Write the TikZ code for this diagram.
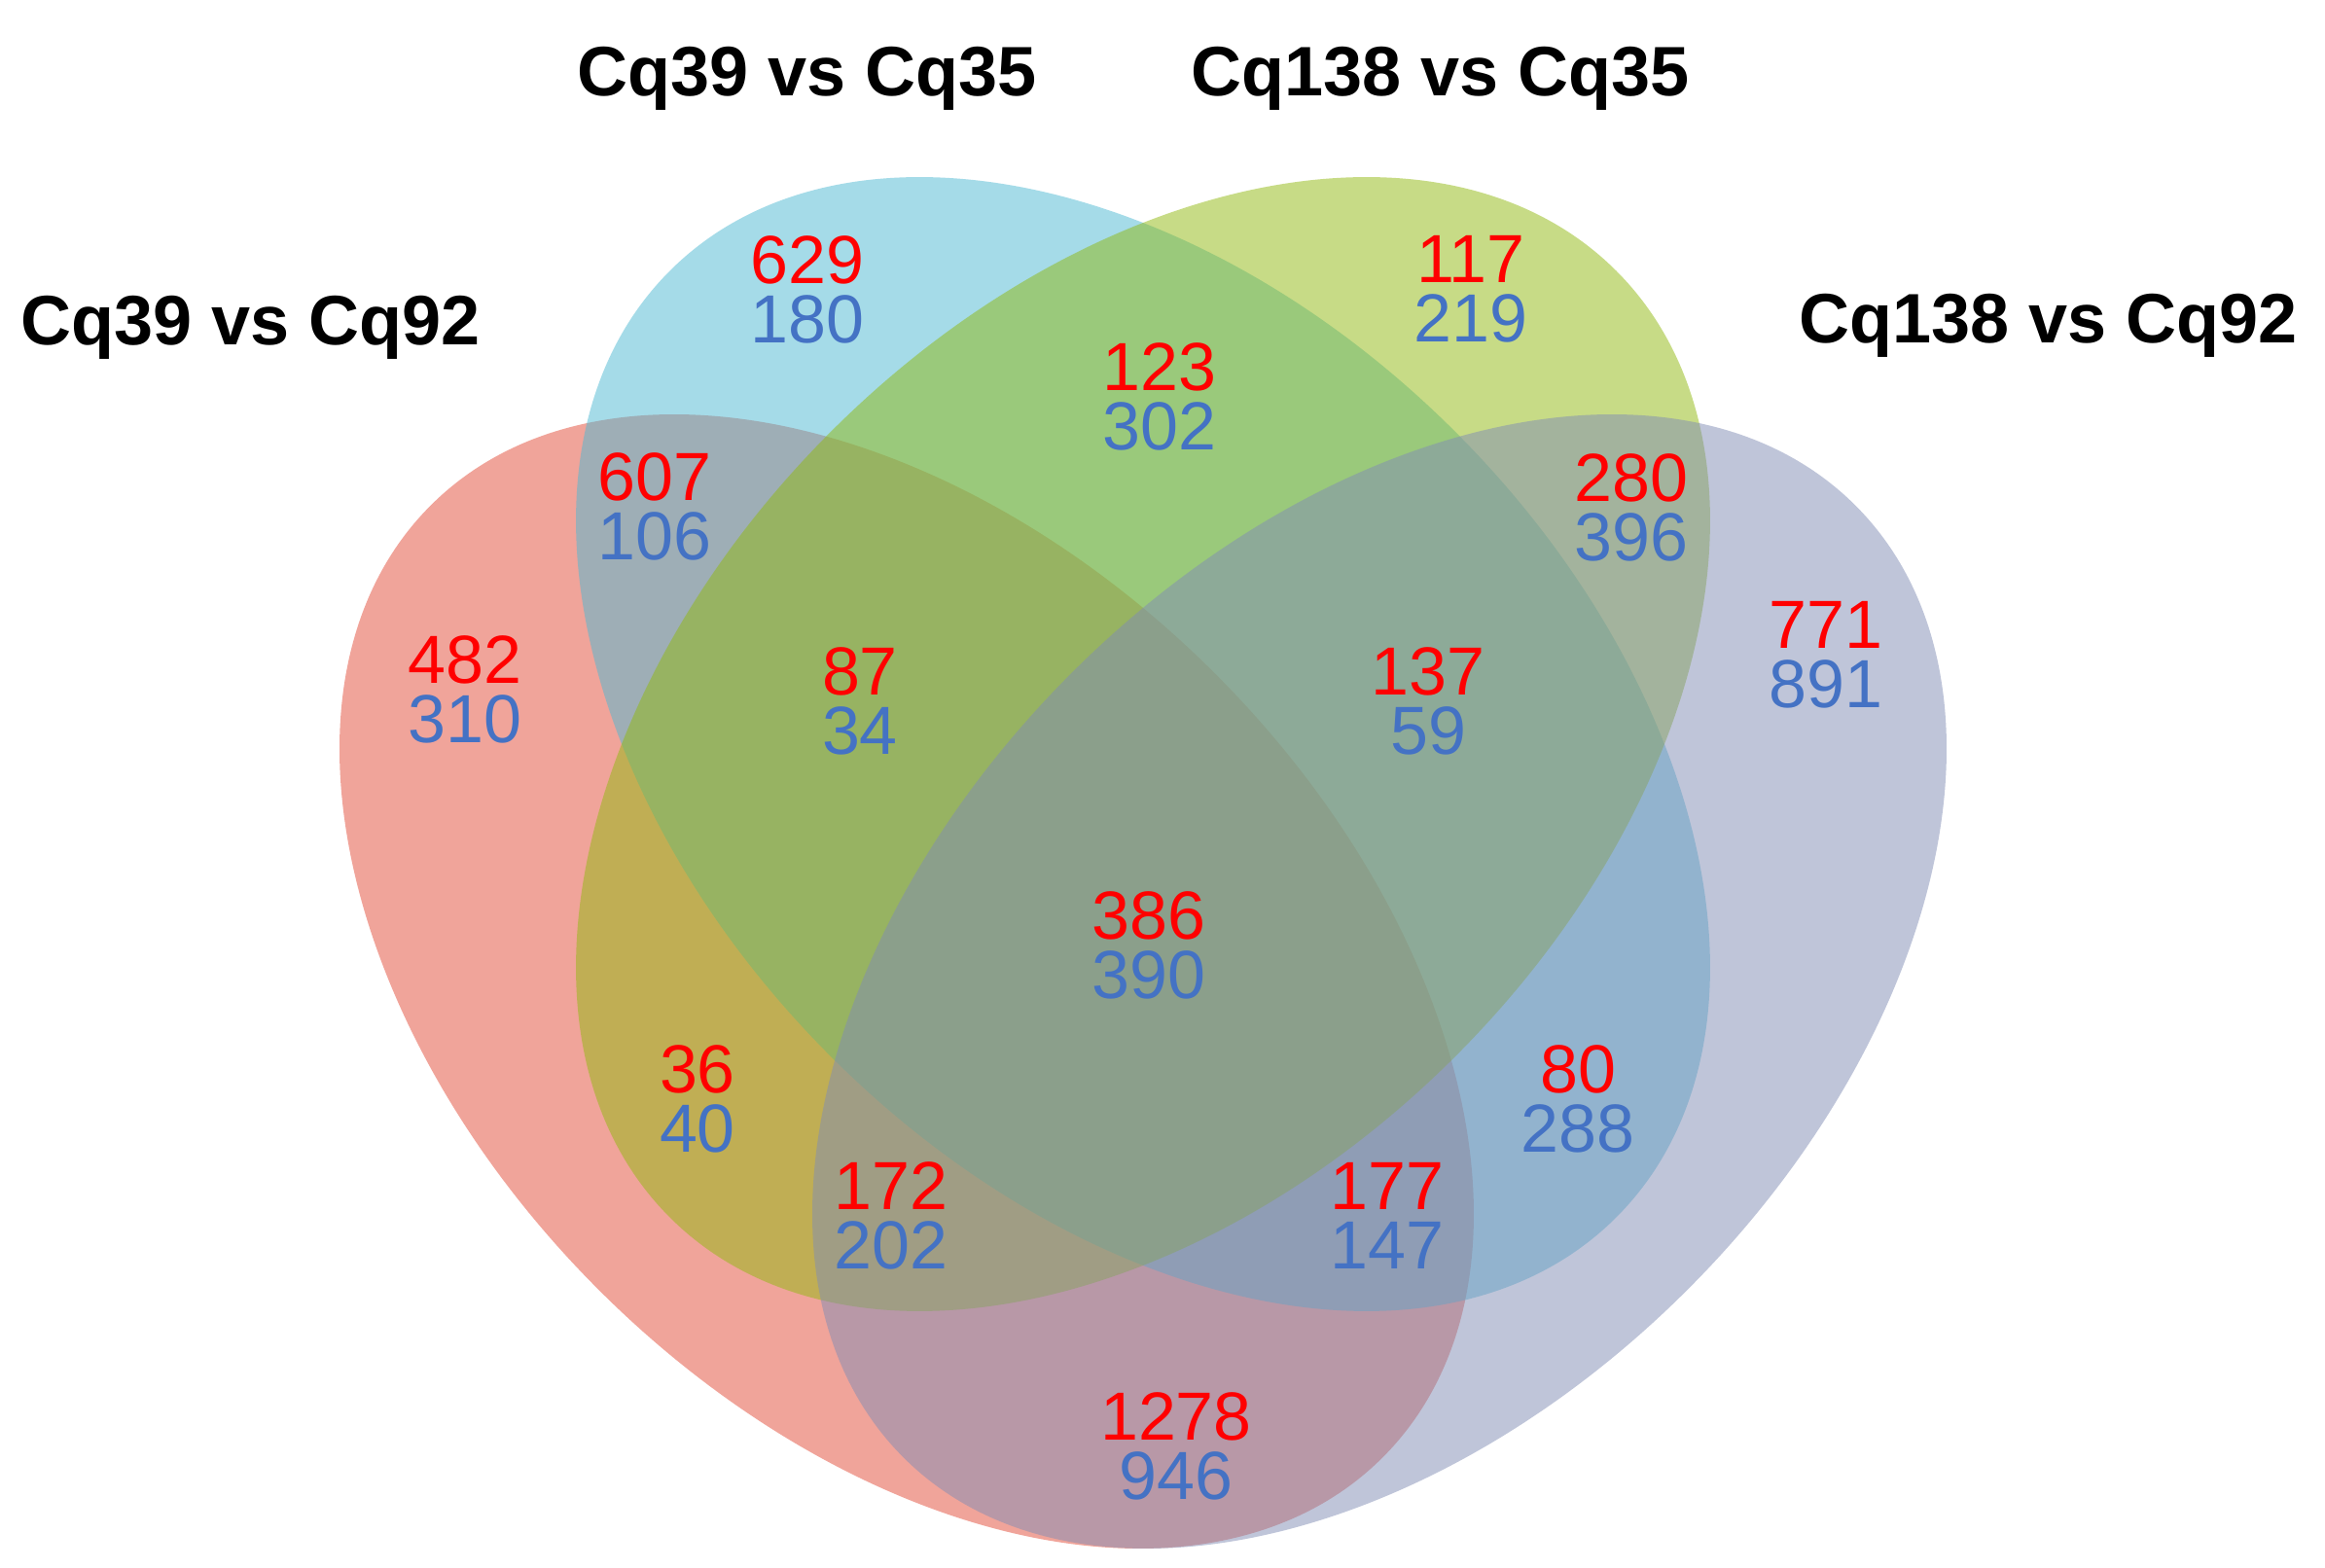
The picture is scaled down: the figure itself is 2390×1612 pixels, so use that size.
\documentclass[tikz,border=0pt]{standalone}
\usepackage{fontspec}
\setmainfont{Liberation Sans}
\definecolor{setred}{RGB}{227,75,55}
\definecolor{setblue}{RGB}{77,185,211}
\definecolor{setgreen}{RGB}{145,185,15}
\definecolor{setpurple}{RGB}{129,141,181}
\definecolor{numred}{RGB}{255,0,0}
\definecolor{numblue}{RGB}{68,114,196}
\newcommand{\cnt}[2]{\textcolor{numred}{#1}\\\textcolor{numblue}{#2}}
\begin{document}
\begin{tikzpicture}[x=0.25pt,y=-0.25pt,
  setfill/.style={fill opacity=0.5, draw=none},
  num/.style={font=\fontsize{17.5}{15.25}\selectfont, inner sep=0pt, align=center, anchor=center},
  ttl/.style={font=\fontsize{18}{21}\selectfont\bfseries, inner sep=0pt, anchor=base}]
\useasboundingbox (0,0) rectangle (2390,1612);
\fill[white] (0,0) rectangle (2390,1612);
% ellipses: red, blue, green, purple
\fill[setred, setfill, rotate around={-45:(932,1009)}] (932,1009) ellipse [x radius=173pt, y radius=112pt];
\fill[setblue, setfill, rotate around={-45:(1175,765)}] (1175,765) ellipse [x radius=172pt, y radius=113.5pt];
\fill[setgreen, setfill, rotate around={45:(1175,765)}] (1175,765) ellipse [x radius=172pt, y radius=113.5pt];
\fill[setpurple, setfill, rotate around={45:(1418,1009)}] (1418,1009) ellipse [x radius=173pt, y radius=112pt];
% titles
\node[ttl] (t1) at (258,355) {Cq39 vs Cq92};
\node[ttl] (t2) at (830,99) {Cq39 vs Cq35};
\node[ttl] (t3) at (1481,99) {Cq138 vs Cq35};
\node[ttl] (t4) at (2106,353) {Cq138 vs Cq92};
% counts (red / blue)
\node[num] (n1) at (830,297.5) {\cnt{629}{180}};
\node[num] (n2) at (1512,297.5) {\cnt{117}{219}};
\node[num] (n3) at (1192,408) {\cnt{123}{302}};
\node[num] (n4) at (673,521) {\cnt{607}{106}};
\node[num] (n5) at (1677,522) {\cnt{280}{396}};
\node[num] (n6) at (478,708.5) {\cnt{482}{310}};
\node[num] (n7) at (884,720.5) {\cnt{87}{34}};
\node[num] (n8) at (1468,720.5) {\cnt{137}{59}};
\node[num] (n9) at (1877,673) {\cnt{771}{891}};
\node[num] (n10) at (1181,971.5) {\cnt{386}{390}};
\node[num] (n11) at (717,1130) {\cnt{36}{40}};
\node[num] (n12) at (1622,1130) {\cnt{80}{288}};
\node[num] (n13) at (916,1250) {\cnt{172}{202}};
\node[num] (n14) at (1426,1250) {\cnt{177}{147}};
\node[num] (n15) at (1209,1486.5) {\cnt{1278}{946}};
\end{tikzpicture}
\end{document}
